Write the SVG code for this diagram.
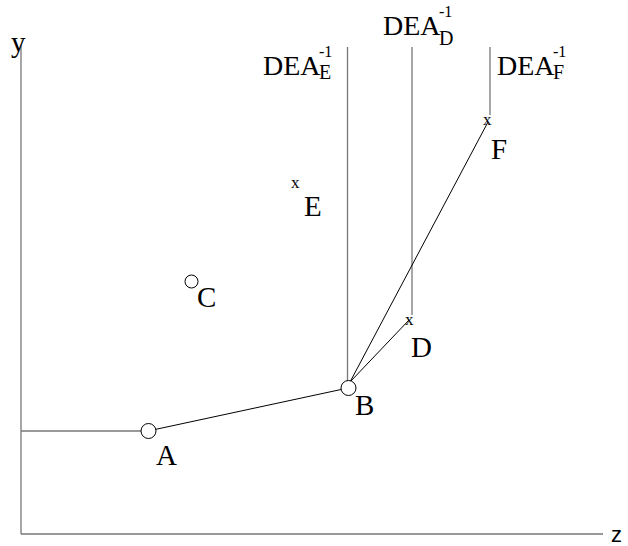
<svg xmlns="http://www.w3.org/2000/svg" width="628" height="546" viewBox="0 0 628 546">
<style>
.ax{stroke:#777;stroke-width:1.3;fill:none}
.ln{stroke:#000;stroke-width:1;fill:none}
.pt{fill:#fff;stroke:#000;stroke-width:1}
.lb{font-family:"Liberation Serif",serif;font-size:29px;fill:#000}
.dea{font-family:"Liberation Serif",serif;font-size:28px;fill:#000}
.sup{font-family:"Liberation Serif",serif;font-size:16px;fill:#000}
.sub{font-family:"Liberation Serif",serif;font-size:20px;fill:#000}
.mk{font-family:"Liberation Serif",serif;font-size:17px;fill:#000}
</style>
<rect width="628" height="546" fill="#fff"/>
<g id="connectors">
<line class="ax" x1="21" y1="45" x2="21" y2="534"/>
<line class="ax" x1="21" y1="534" x2="603" y2="534"/>
<line class="ax" x1="21" y1="431" x2="141" y2="431"/>
<line class="ax" x1="347.5" y1="47" x2="347.5" y2="381"/>
<line class="ax" x1="412" y1="47" x2="412" y2="315"/>
<line class="ax" x1="490" y1="47" x2="490" y2="115"/>
<line class="ln" x1="155" y1="429.5" x2="341" y2="389.5"/>
<line class="ln" x1="350" y1="382" x2="409" y2="320"/>
<line class="ln" x1="350" y1="382" x2="488" y2="122"/>
</g>
<g id="axis-y"><text class="lb" x="11" y="52">y</text></g>
<g id="axis-z"><text x="611" y="542" style="font-family:'Liberation Sans',sans-serif;font-size:22px">z</text></g>
<g id="A"><circle class="pt" cx="148.5" cy="431" r="7.5"/><text class="lb" x="156" y="465">A</text></g>
<g id="B"><circle class="pt" cx="348.5" cy="388" r="7.5"/><text class="lb" x="355" y="415">B</text></g>
<g id="C"><circle class="pt" cx="191.5" cy="281.5" r="6.5"/><text class="lb" x="197" y="307">C</text></g>
<g id="D"><text class="mk" x="405" y="325">x</text><text class="lb" x="411" y="357">D</text></g>
<g id="E"><text class="mk" x="291" y="188">x</text><text class="lb" x="304" y="216">E</text></g>
<g id="F"><text class="mk" x="483" y="125">x</text><text class="lb" x="491" y="159">F</text></g>
<g id="DEA-E"><text class="dea" x="263" y="75">DEA</text><text class="sup" x="319" y="57">-1</text><text class="sub" x="319" y="79">E</text></g>
<g id="DEA-D"><text class="dea" x="383" y="35">DEA</text><text class="sup" x="439" y="17">-1</text><text class="sub" x="439" y="45">D</text></g>
<g id="DEA-F"><text class="dea" x="497" y="75">DEA</text><text class="sup" x="553" y="57">-1</text><text class="sub" x="553" y="79">F</text></g>
</svg>
